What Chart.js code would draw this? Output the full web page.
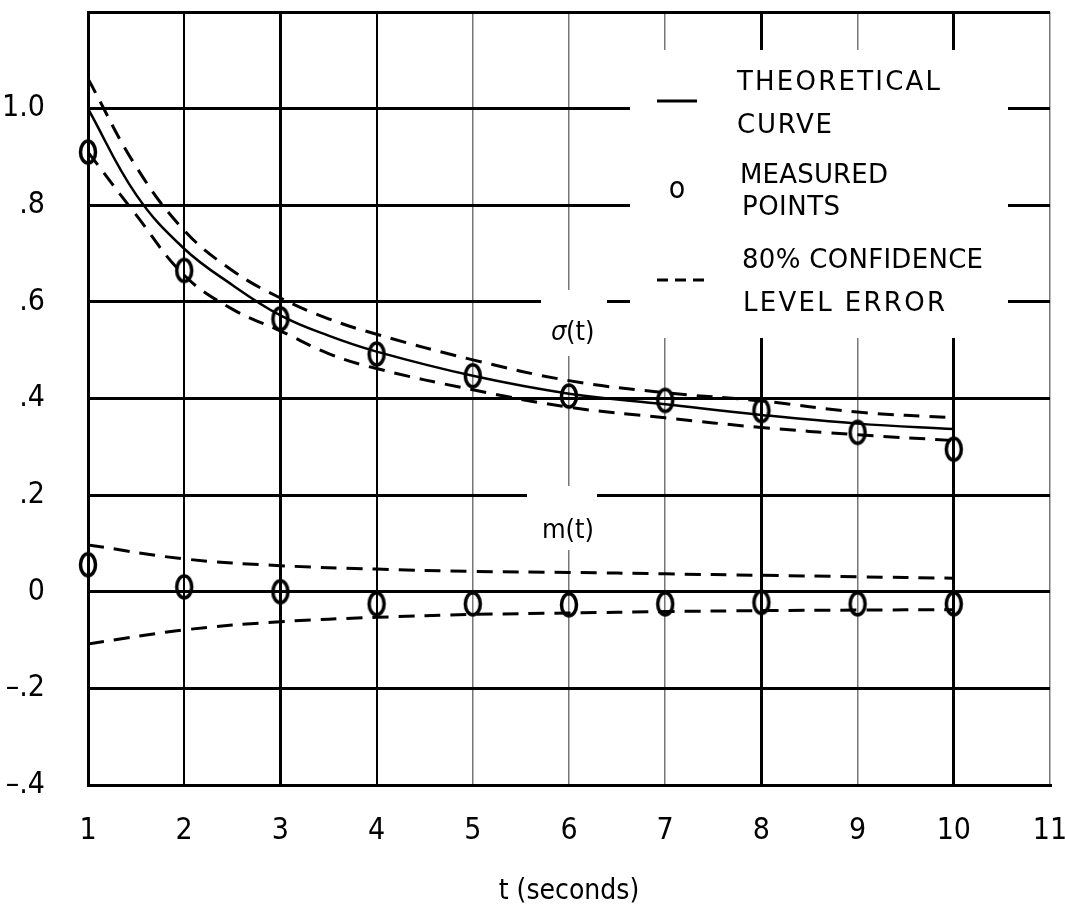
<!DOCTYPE html>
<html>
<head>
<meta charset="utf-8">
<script src="https://cdn.jsdelivr.net/npm/chart.js@4"></script>
<style>
html,body{margin:0;padding:0;background:#fff}
#wrap{width:1065px;height:913px}
</style>
</head>
<body>
<div id="wrap"><canvas id="chart" width="1065" height="913"></canvas></div>
<script>
// t (seconds) of the measured points
const t = [1, 2, 3, 4, 5, 6, 7, 8, 9, 10];
// t (denser where they bend)
const tCurve = [1, 1.5, 2, 2.5, 3, 3.5, 4, 5, 6, 7, 8, 9, 10];

// sigma(t)
const sigmaTheory = [1.0, 0.822, 0.71, 0.635, 0.572, 0.53, 0.497, 0.447, 0.41, 0.388, 0.366, 0.348, 0.337];
const sigmaUpper  = [1.062, 0.88, 0.748, 0.665, 0.608, 0.565, 0.533, 0.48, 0.437, 0.412, 0.395, 0.372, 0.36];
const sigmaLower  = [0.91, 0.78, 0.655, 0.585, 0.54, 0.493, 0.462, 0.418, 0.382, 0.36, 0.34, 0.325, 0.313];
const sigmaMeas   = [0.91, 0.665, 0.565, 0.492, 0.447, 0.405, 0.396, 0.375, 0.33, 0.295];

// m(t)
const mTheory = [0, 0, 0, 0, 0, 0, 0, 0, 0, 0];
const mUpper  = [0.097, 0.068, 0.054, 0.047, 0.042, 0.04, 0.037, 0.034, 0.031, 0.028];
const mLower  = [-0.108, -0.079, -0.062, -0.053, -0.047, -0.044, -0.041, -0.039, -0.038, -0.037];
const mMeas   = [0.056, 0.01, 0.0, -0.025, -0.025, -0.027, -0.025, -0.022, -0.025, -0.025];

// axis ticks
const yTickValues = [-0.4, -0.2, 0, 0.2, 0.4, 0.6, 0.8, 1.0];
const yTickText   = ['–.4', '–.2', '0', '.2', '.4', '.6', '.8', '1.0'];
const xHeavy = [1, 3, 8, 10];
const xLight = [5, 6, 7, 9, 11];

const FONT = "'DejaVu Sans Condensed', 'DejaVu Sans', sans-serif";
const WIDE = "'DejaVu Sans', sans-serif";

const pts = (xs, arr) => xs.map((x, i) => ({x: x, y: arr[i]}));

// the hand drawn "o" marks
function ringMark() {
  const c = document.createElement('canvas');
  c.width = 22; c.height = 30;
  const g = c.getContext('2d');
  g.lineWidth = 3.5; g.strokeStyle = '#000';
  g.beginPath(); g.ellipse(11, 15, 7.5, 11, 0, 0, Math.PI * 2); g.stroke();
  return c;
}
const ring = ringMark();

const solid  = (xs, arr) => ({data: pts(xs, arr), showLine: true, borderColor: '#000', borderWidth: 2.5, pointRadius: 0, tension: 0.4});
const dashed = (xs, arr) => ({data: pts(xs, arr), showLine: true, borderColor: '#000', borderWidth: 3, borderDash: [16, 10], pointRadius: 0, tension: 0.4});
const marks  = arr => ({data: pts(t, arr), showLine: false, pointStyle: ring, pointRadius: 11, clip: false});

// white patches where the paper hides the grid (legend, curve labels)
const masks = {
  id: 'masks',
  beforeDatasetsDraw(chart) {
    const c = chart.ctx;
    c.save();
    c.fillStyle = '#fff';
    c.fillRect(630, 50, 378, 288);
    c.fillRect(541, 290, 66, 66);
    c.fillRect(527, 486, 70, 64);
    c.restore();
  }
};

// text stretched or squeezed to the width it has on the sheet
function spaced(c, text, x, y, w) {
  c.letterSpacing = '0px';
  const natural = c.measureText(text).width;
  c.letterSpacing = Math.max(-1, (w - natural) / Math.max(1, text.length - 1)) + 'px';
  c.fillText(text, x, y);
  c.letterSpacing = '0px';
}

const notes = {
  id: 'notes',
  afterDatasetsDraw(chart) {
    const c = chart.ctx;
    c.save();
    c.fillStyle = '#000';
    c.strokeStyle = '#000';
    c.textBaseline = 'alphabetic';
    c.font = '26px ' + WIDE;
    spaced(c, 'THEORETICAL', 737, 90, 203);
    spaced(c, 'CURVE', 737, 133, 95);
    spaced(c, 'MEASURED', 740, 183, 148);
    spaced(c, 'POINTS', 742, 215, 98);
    spaced(c, '80% CONFIDENCE', 742, 268, 241);
    spaced(c, 'LEVEL ERROR', 743, 311, 202);
    c.lineWidth = 3;
    c.beginPath(); c.moveTo(657, 101); c.lineTo(697, 101); c.stroke();
    c.setLineDash([11, 7]);
    c.beginPath(); c.moveTo(657, 280); c.lineTo(704, 280); c.stroke();
    c.setLineDash([]);
    c.textAlign = 'center';
    c.font = '30px ' + FONT;
    c.fillText('o', 677, 198);
    c.textAlign = 'left';
    c.font = 'italic 27px ' + FONT;
    c.fillText('σ', 551, 340);
    c.font = '27px ' + FONT;
    c.fillText('(t)', 566, 340);
    c.textAlign = 'center';
    c.fillText('m(t)', 568, 538);
    c.restore();
  }
};

new Chart(document.getElementById('chart'), {
  type: 'scatter',
  data: {
    datasets: [
      solid(tCurve, sigmaTheory), dashed(tCurve, sigmaUpper), dashed(tCurve, sigmaLower), marks(sigmaMeas),
      solid(t, mTheory), dashed(t, mUpper), dashed(t, mLower), marks(mMeas)
    ]
  },
  options: {
    responsive: false,
    animation: false,
    layout: {padding: {top: 12, right: 15, left: 0, bottom: 0}},
    plugins: {legend: {display: false}, tooltip: {enabled: false}},
    scales: {
      x: {
        type: 'linear', min: 1, max: 11,
        afterFit: s => { s.height = 128; s.paddingLeft = 0; s.paddingRight = 0; },
        ticks: {stepSize: 1, color: '#000', padding: 28, font: {family: FONT, size: 30}},
        grid: {
          drawTicks: false,
          color: ctx => xLight.includes(ctx.tick.value) ? '#777' : '#000',
          lineWidth: ctx => xHeavy.includes(ctx.tick.value) ? 3 : (xLight.includes(ctx.tick.value) ? 1.5 : 2)
        },
        border: {display: true, color: '#000', width: 3},
        title: {display: true, text: 't (seconds)', color: '#000', padding: {top: 12}, font: {family: FONT, size: 28}}
      },
      y: {
        min: -0.4, max: 1.2,
        afterFit: s => { s.width = 88; s.paddingTop = 0; s.paddingBottom = 0; },
        ticks: {
          stepSize: 0.2, color: '#000', padding: 43, font: {family: FONT, size: 30},
          callback: v => {
            const i = yTickValues.findIndex(y => Math.abs(y - v) < 1e-6);
            return i < 0 ? '' : yTickText[i];
          }
        },
        grid: {drawTicks: false, color: '#000', lineWidth: 3},
        border: {display: true, color: '#000', width: 3}
      }
    }
  },
  plugins: [masks, notes]
});
</script>
</body>
</html>
